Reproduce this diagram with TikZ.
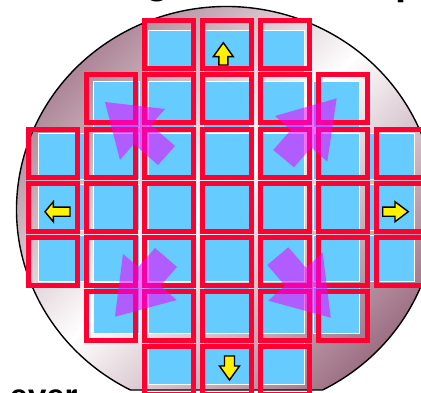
\documentclass[tikz,border=0pt]{standalone}
\usepackage{fontspec}
\setmainfont{Liberation Sans}
\definecolor{mauve}{RGB}{158,112,132}
\definecolor{dieblue}{RGB}{102,204,255}
\definecolor{framered}{RGB}{255,0,51}
\definecolor{arrowmag}{RGB}{240,0,255}
\begin{document}
\begin{tikzpicture}[x=1pt,y=-1pt,
  waferline/.style={line width=1.4pt, draw=black},
  die/.style={fill=dieblue, draw=white, line width=0.6pt},
  diebox/.style={draw=framered, line width=5pt},
  bigarrow/.style={fill=arrowmag, fill opacity=0.55},
  yarrow/.style={fill=yellow, draw=black, line width=1.4pt, line join=miter},
  lbl/.style={font=\bfseries\fontsize{40}{40}\selectfont, inner sep=0pt, anchor=base west}]
\useasboundingbox (0,0) rectangle (421,393);
\clip (0,0) rectangle (421,393);

% wafer
\shade[top color=mauve, bottom color=mauve, middle color=white, shading angle=45]
  (322.6,390) arc[start angle=62.77, end angle=-242.77, x radius=210, y radius=203] -- cycle;
\draw[waferline]
  (322.6,390) arc[start angle=62.77, end angle=-242.77, x radius=210, y radius=203] -- cycle;

% dies (original positions)
\foreach \r/\a/\b in {1/3/5,2/2/6,3/1/7,4/1/7,5/1/7,6/2/6,7/3/5}{
  \foreach \c in {\a,...,\b}{
    \pgfmathsetmacro\fx{25.5+58*(\c-1)}
    \pgfmathsetmacro\fy{18+54.3*(\r-1)}
    \pgfmathsetmacro\bx{\fx+27-3*(\c-4)}
    \pgfmathsetmacro\by{\fy+26.5-3*(\r-4)}
    \fill[die] (\bx-23,\by-23) rectangle (\bx+23,\by+23);
  }
}

% expanded positions (red frames)
\foreach \r/\a/\b in {1/3/5,2/2/6,3/1/7,4/1/7,5/1/7,6/2/6,7/3/5}{
  \foreach \c in {\a,...,\b}{
    \pgfmathsetmacro\fx{25.5+58*(\c-1)}
    \pgfmathsetmacro\fy{18+54.3*(\r-1)}
    \draw[diebox] (\fx+2.5,\fy+2.5) rectangle (\fx+51.5,\fy+50.5);
  }
}

% yellow arrows
\draw[yarrow] (223.3,42.7) -- (233.3,56.7) -- (227.8,56.7) -- (227.8,65) -- (218.8,65) -- (218.8,56.7) -- (213.3,56.7) -- cycle;
\draw[yarrow] (229.5,380) -- (239.5,366) -- (234.5,366) -- (234.5,356) -- (224.5,356) -- (224.5,366) -- (219.5,366) -- cycle;
\draw[yarrow] (45,211.7) -- (53.3,201.7) -- (53.3,207.1) -- (70,207.1) -- (70,216.3) -- (53.3,216.3) -- (53.3,221.7) -- cycle;
\draw[yarrow] (408.3,211.7) -- (395,201.7) -- (395,207.1) -- (382.7,207.1) -- (382.7,216.3) -- (395,216.3) -- (395,221.7) -- cycle;

% big translucent expansion arrows
\fill[bigarrow] (105,102) -- (165,109) -- (150.8,125) -- (175,146) -- (158,165) -- (133.8,144) -- (120,160) -- cycle;
\fill[bigarrow] (336.7,98.3) -- (275,116) -- (290.7,130.1) -- (273.3,150) -- (294,167.3) -- (311.4,147.4) -- (327.3,161.7) -- cycle;
\fill[bigarrow] (330.7,317.7) -- (322.7,252.7) -- (306,267.9) -- (288.3,247.3) -- (267.3,265) -- (285,285.6) -- (268.3,300.7) -- cycle;
\fill[bigarrow] (115,316.7) -- (123,254) -- (138.3,267) -- (155,248) -- (177,267) -- (160.3,286) -- (176.7,300) -- cycle;

% cut-off texts
\node[lbl] (tg) at (145.5,-6.5) {g};
\node[lbl] (tp) at (395,-5) {p};
\node[lbl, font=\bfseries\fontsize{33}{33}\selectfont] (tever) at (9.5,407.5) {ever};
\end{tikzpicture}
\end{document}
